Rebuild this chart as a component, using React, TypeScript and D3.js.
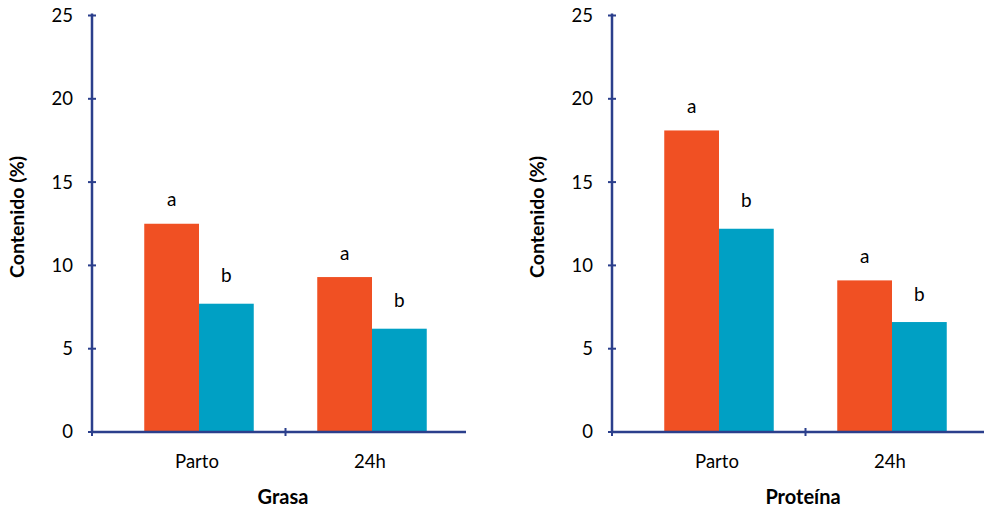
import React from "react";
import * as d3 from "d3";

const categories = ["Parto", "24h"];
const series = ["a", "b"];
const grasaValues = [
  [12.5, 7.7],
  [9.3, 6.2],
];
const proteinaValues = [
  [18.1, 12.2],
  [9.1, 6.6],
];
const letters = ["a", "b"];
const yTicks = [0, 5, 10, 15, 20, 25];
const panelTitles = ["Grasa", "Proteína"];
const yTitle = "Contenido (%)";

const colors = ["#F05023", "#00A0C4"];
const axisColor = "#2B3F8C";
const font = "Lato, 'Open Sans', sans-serif";

function Panel({ x0, values, title }: { x0: number; values: number[][]; title: string }) {
  const axisX = x0;
  const axisEnd = x0 + 374;
  const y = d3.scaleLinear().domain([0, 25]).range([432, 15.5]);
  const x = d3.scaleBand().domain(categories).range([x0 + 20.5, x0 + 366.5]).paddingInner(0).paddingOuter(0);
  const groupW = 109.5;
  const sub = d3.scaleBand().domain(series).range([0, groupW]);
  const letterOffset = [17.5, 21.5];
  return (
    <g>
      {categories.map((c, ci) => {
        const gx = (x(c) as number) + x.bandwidth() / 2 - groupW / 2;
        return (
          <g key={c}>
            {series.map((s, si) => (
              <rect
                key={s}
                x={gx + (sub(s) as number)}
                y={y(values[ci][si])}
                width={sub.bandwidth()}
                height={y(0) - y(values[ci][si])}
                fill={colors[si]}
              />
            ))}
            {series.map((s, si) => (
              <text
                key={"l" + s}
                x={gx + (sub(s) as number) + sub.bandwidth() / 2}
                y={y(values[ci][si]) - letterOffset[si]}
                textAnchor="middle"
                fontSize={19}
                fontFamily={font}
                fill="#000"
              >
                {letters[si]}
              </text>
            ))}
            <text
              x={(x(c) as number) + x.bandwidth() / 2 - 2}
              y={468}
              textAnchor="middle"
              fontSize={18.5}
              fontFamily={font}
              fill="#000"
            >
              {c}
            </text>
          </g>
        );
      })}
      {/* y axis */}
      <line x1={axisX} x2={axisX} y1={y(25) - 2} y2={y(0)} stroke={axisColor} strokeWidth={2.5} />
      {yTicks.map((t) => (
        <g key={t}>
          <line x1={axisX - 4} x2={axisX + 4} y1={y(t)} y2={y(t)} stroke={axisColor} strokeWidth={2} />
          <text
            x={axisX - 19}
            y={y(t)}
            dy="0.35em"
            textAnchor="end"
            fontSize={18.5}
            fontFamily={font}
            fill="#000"
          >
            {t}
          </text>
        </g>
      ))}
      {/* x axis */}
      <line x1={axisX - 1} x2={axisEnd} y1={y(0)} y2={y(0)} stroke={axisColor} strokeWidth={2.5} />
      {[x0 + 20.5 + x.bandwidth(), axisX].map((tx, i) => (
        <line key={i} x1={tx} x2={tx} y1={y(0) - 4} y2={y(0) + 4} stroke={axisColor} strokeWidth={2} />
      ))}
      <text
        x={x0 + 191}
        y={504}
        textAnchor="middle"
        fontSize={20}
        fontWeight="bold"
        fontFamily={font}
        fill="#000"
      >
        {title}
      </text>
      <text
        transform={`translate(${x0 - 68},${217}) rotate(-90)`}
        textAnchor="middle"
        fontSize={19.5}
        fontWeight="bold"
        fontFamily={font}
        fill="#000"
      >
        {yTitle}
      </text>
    </g>
  );
}

export default function App() {
  return (
    <svg width={984} height={509} style={{ position: "absolute", left: 0, top: 0, background: "#fff" }}>
      <rect width={984} height={509} fill="#fff" />
      <Panel x0={92} values={grasaValues} title={panelTitles[0]} />
      <Panel x0={612} values={proteinaValues} title={panelTitles[1]} />
    </svg>
  );
}
